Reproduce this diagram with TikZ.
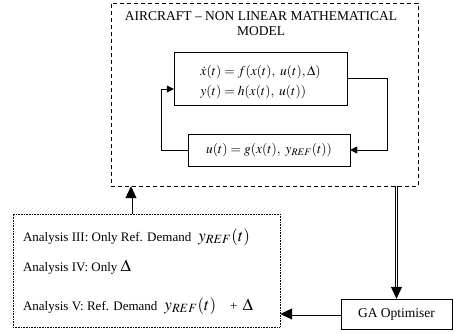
\documentclass[tikz,border=0pt]{standalone}
\usepackage{mathptmx}
\usepackage{fontspec}
\setmainfont{Liberation Serif}
\usetikzlibrary{arrows.meta}
\usetikzlibrary{calc}

\begin{document}
\begin{tikzpicture}[x=1pt, y=1pt, font=\fontsize{13.5}{15}\selectfont,
  block/.style={rectangle, draw=black, thin},
  sig/.style={-{Triangle[length=7pt, width=7pt]}},
  dbl/.style={double, double distance=1.4pt, line width=0.8pt, -{Triangle[length=12pt, width=11pt]}}]
\useasboundingbox (0,0) rectangle (454,333);
\node[rectangle, draw, dash pattern=on 4pt off 3pt, minimum width=307, minimum height=183] (aircraft) at (264.5,238.5) {};
\node[align=center] (title) at (261,309.5) {AIRCRAFT -- NON LINEAR MATHEMATICAL\\MODEL};
\node[block, align=left, minimum width=173, minimum height=53, font=\fontsize{13.5}{17}\selectfont] (model) at (260.5,254.5) {\rule{0pt}{18pt}$\dot{x}(t) = f(x(t),\ u(t),\Delta)$\\[3pt] $y(t) = h(x(t),\ u(t))$};
\node[block, minimum width=162, minimum height=32] (ctrl) at (269,183) {$u(t) = g(x(t),\ y_{REF}(t))$};
\node[block, minimum width=111, minimum height=30] (ga) at (396.5,19) {GA Optimiser};
\node[rectangle, draw, dash pattern=on 0.8pt off 0.8pt, minimum width=267, minimum height=113] (analysis) at (146.5,62.5) {};
\node[anchor=west, font=\fontsize{13}{15}\selectfont] (an3) at (19.5,96) {Analysis III: Only Ref. Demand\hspace{7pt}{\fontsize{17}{19}\selectfont$y_{REF}(t)$}};
\node[anchor=west, font=\fontsize{13}{15}\selectfont] (an4) at (19.5,66) {Analysis IV: Only {\fontsize{17}{19}\selectfont$\Delta$}};
\node[anchor=west, font=\fontsize{13}{15}\selectfont] (an5) at (19.5,27) {Analysis V: Ref. Demand\hspace{7pt}{\fontsize{17}{19}\selectfont$y_{REF}(t)$}\hspace{14pt}+\hspace{5pt}{\fontsize{17}{19}\selectfont$\Delta$}};
\coordinate (up) at ([xshift=-15.5pt]analysis.north);

\draw[sig] (ctrl.west) -- ++(-27,0) |- ([yshift=-10.5pt]model.west);
\draw[sig] (model.east) -- ++(40,0) |- (ctrl.east);
\draw[dbl] (aircraft.south -| ga.north) -- (ga.north);
\draw[dbl] (ga.west) -- (ga.west -| analysis.east);
\draw[dbl] (up) -- (up |- aircraft.south);
\end{tikzpicture}
\end{document}
